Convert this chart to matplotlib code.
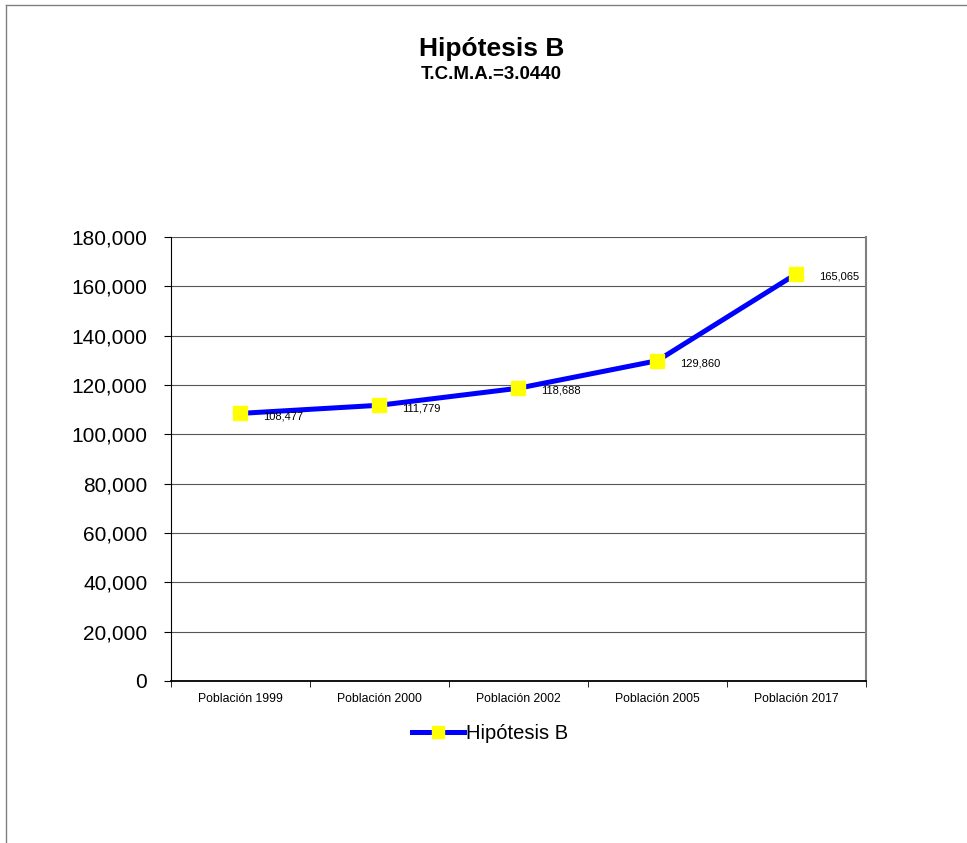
import matplotlib.pyplot as plt
from matplotlib.lines import Line2D
from matplotlib.ticker import FuncFormatter

plt.rcParams['font.family'] = ['Liberation Sans', 'DejaVu Sans']

# data
categories = ["Población 1999", "Población 2000", "Población 2002",
              "Población 2005", "Población 2017"]
poblacion = [108477, 111779, 118688, 129860, 165065]
serie = "Hipótesis B"

fig = plt.figure(figsize=(9.67, 8.43), dpi=100)

# outer frame (top and left edges only)
fig.add_artist(Line2D([0.006, 1.0], [0.994, 0.994], color="#808080", lw=1))
fig.add_artist(Line2D([0.0065, 0.0065], [0.0, 0.994], color="#808080", lw=1))

ax = fig.add_axes([0.1768, 0.1922, 0.7187, 0.5267])
x = list(range(len(categories)))

ax.plot(x, poblacion, color="#0000FF", lw=3.6, marker="s", markersize=10,
        markerfacecolor="#FFFF00", markeredgecolor="#FFFF00", zorder=3)

for xi, v in zip(x, poblacion):
    ax.annotate(f"{v:,}", (xi, v), xytext=(16.5, -2), textcoords="offset points",
                ha="left", va="center", fontsize=8)

ax.set_xlim(-0.5, len(categories) - 0.5)
ax.set_ylim(0, 180000)
ax.set_yticks(range(0, 180001, 20000))
ax.yaxis.set_major_formatter(FuncFormatter(lambda v, p: f"{int(v):,}"))
ax.tick_params(axis="y", labelsize=15, length=5, direction="out", pad=12)
ax.set_xticks(x)
ax.set_xticklabels(categories, fontsize=8.8)
ax.set_xticks([i - 0.5 for i in range(len(categories) + 1)], minor=True)
ax.tick_params(axis="x", which="major", length=0, pad=9)
ax.tick_params(axis="x", which="minor", length=4)

ax.grid(axis="y", color="#555555", lw=0.8)
ax.set_axisbelow(True)
ax.spines["top"].set_visible(False)
ax.spines["left"].set_color("black")
ax.spines["bottom"].set_color("black")
ax.spines["bottom"].set_linewidth(1.3)
ax.spines["right"].set_color("#808080")
ax.spines["right"].set_linewidth(1.5)

fig.text(0.508, 0.942, "Hipótesis B", ha="center", va="center",
         fontsize=19, fontweight="bold")
fig.text(0.508, 0.912, "T.C.M.A.=3.0440", ha="center", va="center",
         fontsize=13.5, fontweight="bold")

handle = Line2D([], [], color="#0000FF", lw=3.6, marker="s", markersize=9,
                markerfacecolor="#FFFF00", markeredgecolor="#FFFF00")
fig.legend([handle], [serie], loc="center", bbox_to_anchor=(0.507, 0.13),
           frameon=False, fontsize=14.5, handlelength=2.6, handletextpad=0.1)

fig.savefig("out.png", dpi=100)
